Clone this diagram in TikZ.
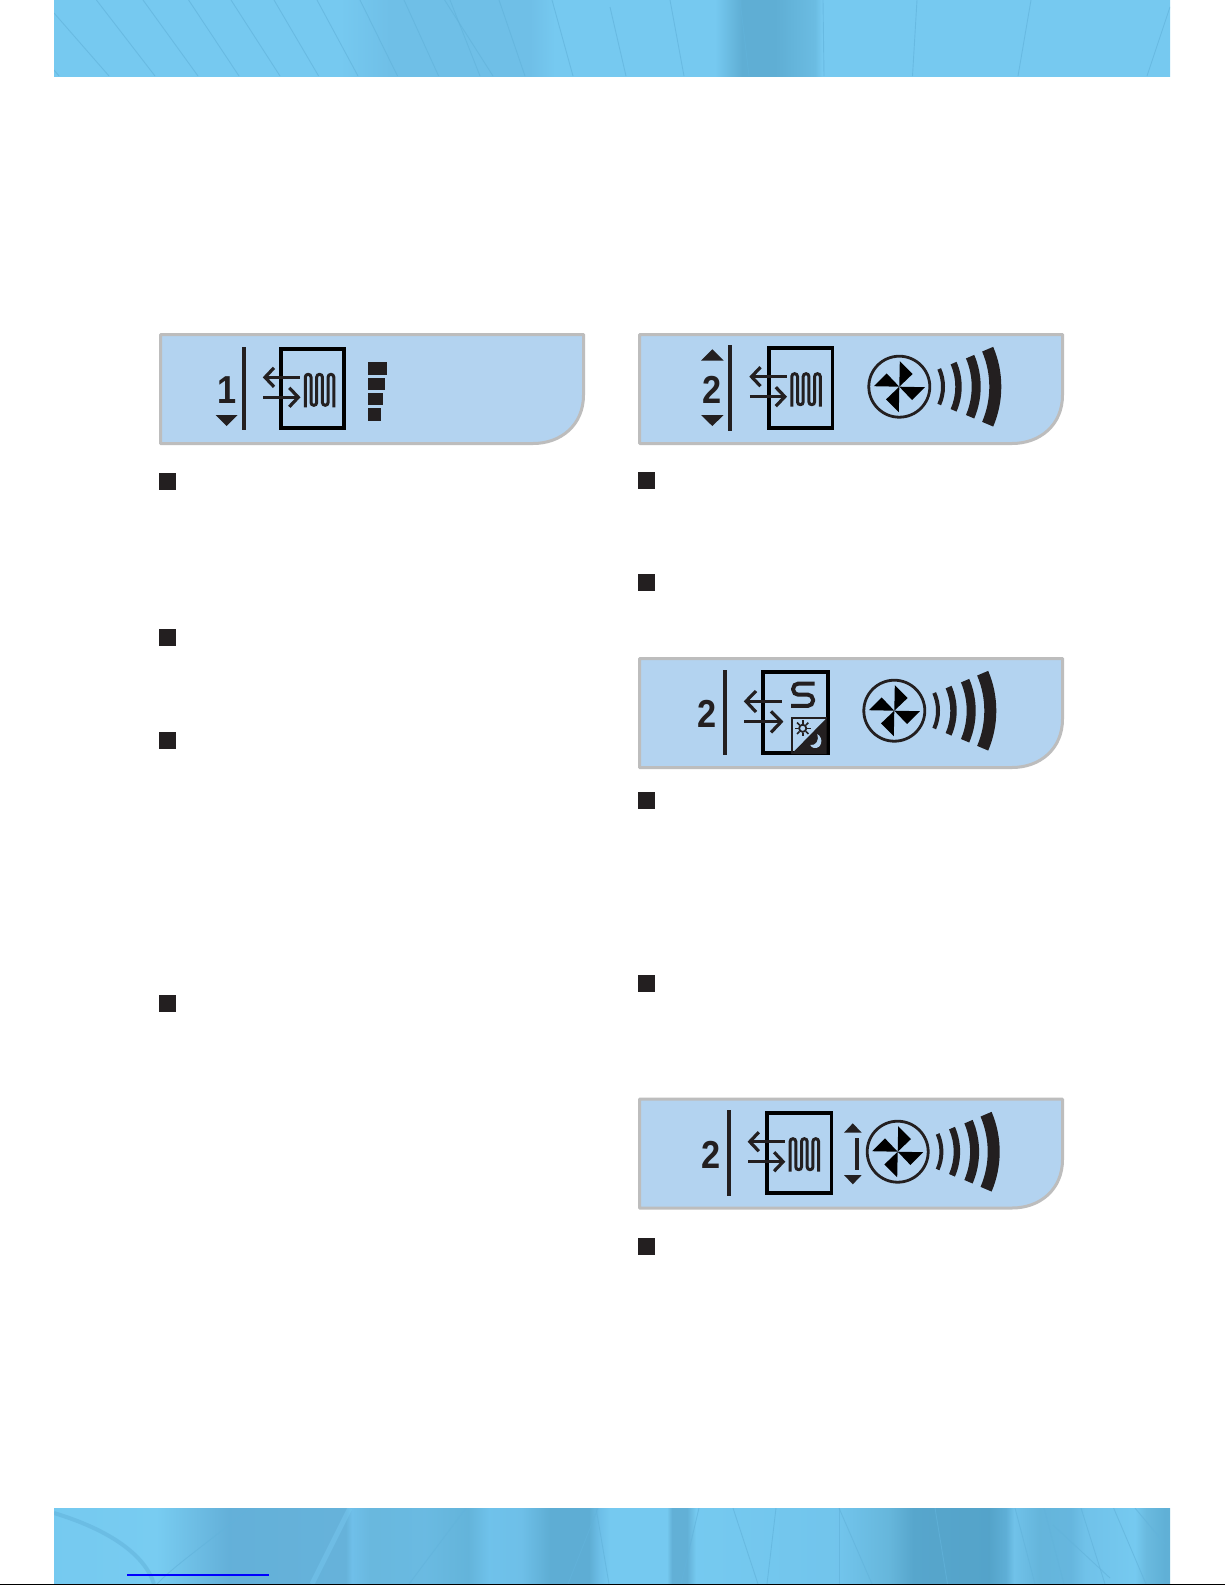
\documentclass[tikz,border=0pt]{standalone}
\usepackage{fontspec}
\setmainfont{Liberation Sans}
\definecolor{ink}{HTML}{231F20}
\definecolor{panelblue}{HTML}{B3D3F0}
\definecolor{paneledge}{HTML}{BDBDBD}
\definecolor{bandline}{HTML}{62B3DB}
\definecolor{bandlight}{HTML}{7ACDF3}
\definecolor{bA}{HTML}{76C9F0}
\definecolor{bM}{HTML}{6FBFE7}
\definecolor{bD}{HTML}{5FAED4}
\definecolor{bE}{HTML}{6BBCE2}
\pgfdeclarehorizontalshading{topband}{100bp}{
 color(0bp)=(bA); color(25bp)=(bA); color(37.81bp)=(bA); color(40.05bp)=(bM);
 color(46.33bp)=(bM); color(47.45bp)=(bA); color(54.61bp)=(bA); color(55.82bp)=(bD);
 color(57.3bp)=(bD); color(59.1bp)=(bE); color(59.4bp)=(bA); color(75bp)=(bA); color(100bp)=(bA)}
\pgfdeclarehorizontalshading{bottomband}{100bp}{
 rgb(0bp)=(0.46,0.79,0.94); rgb(25bp)=(0.46,0.79,0.94);
 rgb(29.6bp)=(0.47,0.80,0.945); rgb(32.84bp)=(0.39,0.69,0.85); rgb(38.08bp)=(0.40,0.70,0.855);
 rgb(38.35bp)=(0.435,0.75,0.915); rgb(39.2bp)=(0.41,0.72,0.87); rgb(41.62bp)=(0.415,0.73,0.885);
 rgb(43.55bp)=(0.39,0.705,0.855); rgb(44.49bp)=(0.435,0.76,0.92); rgb(45.92bp)=(0.43,0.75,0.91);
 rgb(47.22bp)=(0.37,0.68,0.83); rgb(48.97bp)=(0.37,0.68,0.83); rgb(49.46bp)=(0.43,0.75,0.91);
 rgb(49.91bp)=(0.46,0.79,0.94); rgb(52.46bp)=(0.46,0.79,0.94); rgb(52.69bp)=(0.385,0.69,0.84);
 rgb(53.36bp)=(0.385,0.69,0.84); rgb(53.76bp)=(0.46,0.79,0.94); rgb(60.17bp)=(0.445,0.77,0.925);
 rgb(62.41bp)=(0.40,0.715,0.86); rgb(63.53bp)=(0.34,0.65,0.80); rgb(66.89bp)=(0.33,0.64,0.79);
 rgb(67.65bp)=(0.37,0.685,0.84); rgb(68.01bp)=(0.44,0.76,0.915); rgb(69.13bp)=(0.395,0.71,0.86);
 rgb(70.56bp)=(0.40,0.715,0.87); rgb(71.19bp)=(0.44,0.76,0.915); rgb(73.43bp)=(0.46,0.79,0.94);
 rgb(73.92bp)=(0.415,0.73,0.875); rgb(74.77bp)=(0.375,0.69,0.84); rgb(75bp)=(0.375,0.69,0.84);
 rgb(100bp)=(0.375,0.69,0.84)}
\tikzset{
 panelbox/.style={fill=panelblue,draw=paneledge,line width=3pt,line join=round},
 bulletbox/.style={fill=ink,draw=none},
 inkfill/.style={fill=ink,draw=none},
 sepline/.style={draw=ink,line width=3.5pt},
 thinline/.style={draw=ink,line width=3.2pt},
 heatbox/.style={draw=black,line width=3.8pt},
 coilline/.style={draw=ink,line width=3pt,rounded corners=2.8pt},
 arrowhead/.style={draw=ink,line width=3.2pt,line join=miter},
 digit/.style={font=\fontsize{39}{39}\selectfont\bfseries,text=ink,inner sep=0pt,xscale=0.88},
 bandstroke/.style={draw=bandline,line width=.9pt,opacity=.65},
}
\newcommand{\panelat}[2]{%
 \draw[panelbox] (#1+1.5,#2+1.5) -- (#1+424.5,#2+1.5) -- (#1+424.5,#2+62)
  .. controls (#1+424.5,#2+92) and (#1+402,#2+110.5) .. (#1+374,#2+110.5)
  -- (#1+1.5,#2+110.5) -- cycle;}
\newcommand{\bulletat}[2]{\fill[bulletbox] (#1,#2) rectangle (#1+17,#2+17);}
\newcommand{\arrowsat}[2]{%
 \begin{scope}[shift={(#1,#2)}]
  \draw[thinline] (-13,30) -- (21,30);
  \draw[arrowhead] (-5,20.5) -- (-14,30) -- (-5,39.5);
  \draw[thinline] (-15.7,50) -- (18,50);
  \draw[arrowhead] (10.3,40.5) -- (19.3,50) -- (10.3,59.5);
 \end{scope}}
\newcommand{\coilat}[2]{%
 \begin{scope}[shift={(#1,#2)}]
  \draw[coilline] (26.3,60) -- (26.3,27) -- (32,27) -- (32,58) -- (37.7,58) -- (37.7,27)
   -- (43.4,27) -- (43.4,58) -- (49.1,58) -- (49.1,27) -- (54.8,27) -- (54.8,60);
 \end{scope}}
\newcommand{\sector}[3]{\fill[inkfill] (-#3:#2) arc[start angle=-#3,end angle=#3,radius=#2]
  -- (#3:#1) arc[start angle=#3,end angle=-#3,radius=#1] -- cycle;}
\newcommand{\fanat}[2]{%
 \begin{scope}[shift={(#1,#2)}]
  \draw[draw=ink,line width=2.8pt] (0,0) circle[radius=30.5];
  \foreach \r in {0,90,180,270}{
   \fill[black,rotate=\r] (0,0) -- (0.5,-25.5) -- (13.3,-12.7) -- cycle;}
  \sector{41.7}{45.7}{24}
  \sector{56}{62.4}{23.5}
  \sector{72.4}{81.4}{23}
  \sector{90}{102}{23}
 \end{scope}}
\begin{document}
\begin{tikzpicture}[x=1pt,y=-1pt]
\useasboundingbox (0,0) rectangle (1225,1585);
\fill[white] (0,0) rectangle (1225,1585);
% top band
\shade[shading=topband] (54,0) rectangle (1170,76);
\begin{scope}
 \clip (54,0) rectangle (1170,76);
 \foreach \a/\b/\c/\d in {54/13/109/76,96.4/0/155/76,143/0/198/76,188.6/0/239/76,231/0/280/76,274/0/318.6/76,317/0/358/76,360/0/397.5/76,404/0/438.6/76,444.6/0/493/76,450/0/480/76,499/0/525/76,552/0/573/76,54/70/59/76,610/7/626/76,670/0/684/76,740/0/749/76,823/0/824/76,917/0/912.5/76,1031/0/1018/76,1170/7/1147/76}
  \draw[bandstroke] (\a,\b) -- (\c,\d);
\end{scope}
% bottom band
\shade[shading=bottomband] (54,1508) rectangle (1170,1584);
\begin{scope}
 \clip (54,1508) rectangle (1170,1584);
 \draw[draw=bandline,line width=4pt,opacity=.55] (54,1513) .. controls (110,1530) and (145,1555) .. (154,1584);
 \draw[draw=bandlight,line width=5pt,opacity=.4] (350,1508) -- (312,1584);
 \draw[bandstroke] (250,1508) .. controls (205,1545) and (175,1565) .. (157,1584);
 \foreach \a/\b/\c/\d in {466/1508/409/1584,598/1508/568/1584,596/1508/609/1584,699/1508/681/1584,733/1508/758/1584,776/1508/767/1584,839/1508/872/1584,839/1508/839/1584,935/1508/947.5/1584,1015/1508/1035/1584,1044/1508/1064/1584,1081/1508/1105/1584,1113.6/1508/1146/1584,1135/1508/1165/1544,1053/1525/1110/1578}
  \draw[bandstroke] (\a,\b) -- (\c,\d);
\end{scope}
\fill[blue] (127,1574.2) rectangle (269,1575.8);
\fill[black] (0,1583.6) rectangle (1225,1585);
% panel 1
\panelat{159}{333}
\draw[sepline] (244,347) -- (244,430);
\node[digit] (digitone) at (227,390) {1};
\fill[inkfill] (215.7,415) -- (237.7,415) -- (226.7,426) -- cycle;
\draw[heatbox] (280.9,349.2) rectangle (344.1,428.1);
\arrowsat{279}{347.3}
\coilat{279}{347.3}
\fill[inkfill] (368.3,362.3) rectangle (387,375);
\fill[inkfill] (368.3,378.3) rectangle (385,390);
\fill[inkfill] (368.3,393) rectangle (383,405);
\fill[inkfill] (368.3,408.3) rectangle (381,421);
% panel 2
\panelat{638}{333}
\draw[sepline] (730,345) -- (730,430.7);
\node[digit] (digittwoa) at (712.3,389.7) {2};
\fill[inkfill] (701,360.7) -- (723.7,360.7) -- (712.3,349.3) -- cycle;
\fill[inkfill] (701,415) -- (723.7,415) -- (712.3,426) -- cycle;
\draw[heatbox] (768.6,347.9) rectangle (832.4,428.1);
\arrowsat{765.5}{346.7}
\coilat{765.5}{346.7}
\fanat{899.3}{386.7}
% panel 3
\panelat{638}{657}
\draw[sepline] (725,670) -- (725,755);
\node[digit] (digittwob) at (707.3,714) {2};
\draw[draw=black,line width=4pt] (763,672) rectangle (828,753);
\draw[thinline] (746,701.3) -- (782.3,701.3);
\draw[arrowhead] (756,691) -- (746,701.3) -- (756,712);
\draw[thinline] (744.3,721.7) -- (780,721.7);
\draw[arrowhead] (771,711.3) -- (781.2,721.7) -- (771,732.4);
\draw[draw=ink,line width=4pt,rounded corners=5pt] (814.5,683.6) -- (793.2,683.6) -- (793.2,694.7) -- (813,694.7) -- (813,705.8) -- (791.2,705.8);
\fill[inkfill] (826.7,718) -- (826.7,754) -- (791.5,754) -- cycle;
\draw[draw=ink,line width=2.2pt] (792,754) -- (792,718) -- (826.7,718);
\draw[draw=ink,line width=1.8pt] (802.7,728.3) circle[radius=3.6];
\foreach \a in {0,45,...,315}{\draw[draw=ink,line width=1.6pt] ([shift={(\a:4.6)}]802.7,728.3) -- ([shift={(\a:8)}]802.7,728.3);}
\fill[fill=panelblue] (817.3,734) .. controls (824,738) and (822,749) .. (814,748) .. controls (812,747.5) and (811,746.5) .. (810.3,745) .. controls (816,746) and (819.5,740) .. (817.3,734) -- cycle;
\fanat{894.3}{710.7}
% panel 4
\panelat{638}{1097.5}
\draw[sepline] (729,1110) -- (729,1195.7);
\node[digit] (digittwoc) at (711,1154.7) {2};
\draw[heatbox] (766.6,1112.9) rectangle (831.4,1193.1);
\arrowsat{763.8}{1111.7}
\coilat{763.8}{1111.7}
\fill[inkfill] (844,1132.7) -- (861.7,1132.7) -- (852.8,1123.3) -- cycle;
\fill[inkfill] (855.2,1138) rectangle (858.8,1170);
\fill[inkfill] (844,1175) -- (861.7,1175) -- (852.8,1184.3) -- cycle;
\fanat{897.7}{1151.7}
% bullets
\bulletat{159}{473}
\bulletat{159}{628.5}
\bulletat{159}{731.5}
\bulletat{159}{994.5}
\bulletat{638}{472}
\bulletat{638}{574}
\bulletat{638}{792}
\bulletat{638}{975}
\bulletat{638}{1238}
\end{tikzpicture}
\end{document}
